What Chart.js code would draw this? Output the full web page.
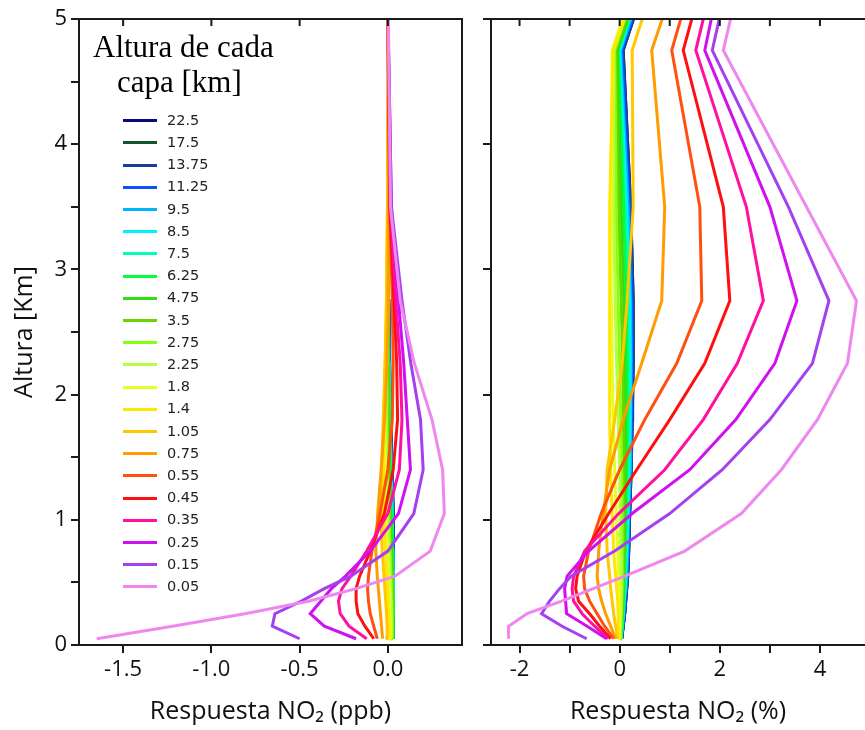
<!DOCTYPE html>
<html>
<head>
<meta charset="utf-8">
<script src="https://cdn.jsdelivr.net/npm/chart.js@4.4.1/dist/chart.umd.min.js"></script>
<style>
  html, body { margin: 0; padding: 0; background: #fff; }
  body { width: 865px; height: 730px; overflow: hidden; position: relative; }
  #izq { position: absolute; left: 0; top: 0; }
  #der { position: absolute; left: 470px; top: 0; }
  .tit { position: absolute; font: 31px "Liberation Serif", "Times New Roman", serif; line-height: 35px; color: #000; white-space: nowrap; }
  .fila { position: absolute; left: 123px; height: 22px; line-height: 22px; font: 14.5px "DejaVu Sans", sans-serif; color: #222; white-space: nowrap; }
  .fila i { display: inline-block; width: 34px; height: 3px; vertical-align: middle; margin-right: 10px; }
</style>
</head>
<body>
<canvas id="izq" width="470" height="730"></canvas>
<canvas id="der" width="395" height="730"></canvas>
<div id="leyenda"></div>
<script>
// altura de cada capa perturbada (km)
const capas = ['22.5', '17.5', '13.75', '11.25', '9.5', '8.5', '7.5', '6.25', '4.75', '3.5', '2.75',
  '2.25', '1.8', '1.4', '1.05', '0.75', '0.55', '0.45', '0.35', '0.25', '0.15', '0.05'];

const colores = ['#0a0a80', '#10552e', '#143c9a', '#0a50ff', '#00b4ff', '#00f0ff', '#00ffb4', '#00ff40',
  '#30e010', '#6cd400', '#84ff10', '#b4ff40', '#e4ff20', '#ffe800', '#ffc800', '#ff9c00',
  '#ff5010', '#ff1010', '#ff10a0', '#d010f0', '#a440f0', '#ee88ee'];

// niveles del perfil (km)
const alturas = [0.05, 0.15, 0.25, 0.35, 0.45, 0.55, 0.75, 1.05, 1.4, 1.8, 2.25, 2.75, 3.5, 4.75, 6.25];

// respuesta NO2 en ppb, una fila por capa (mismo orden que capas)
const respPpb = [
  [0.03, 0.03, 0.03, 0.03, 0.03, 0.03, 0.03, 0.03, 0.025, 0.015, 0.01, 0.005, 0.002, 0.001, 0],
  [0.03, 0.03, 0.03, 0.03, 0.03, 0.03, 0.03, 0.03, 0.024, 0.015, 0.01, 0.005, 0.002, 0.001, 0],
  [0.03, 0.03, 0.03, 0.03, 0.03, 0.03, 0.03, 0.029, 0.023, 0.014, 0.009, 0.005, 0.002, 0.001, 0],
  [0.028, 0.03, 0.03, 0.03, 0.03, 0.03, 0.03, 0.028, 0.022, 0.013, 0.008, 0.004, 0.002, 0.001, 0],
  [0.02, 0.028, 0.03, 0.03, 0.03, 0.03, 0.029, 0.026, 0.02, 0.012, 0.007, 0.004, 0.002, 0.001, 0],
  [0.01, 0.026, 0.03, 0.03, 0.03, 0.03, 0.028, 0.024, 0.018, 0.011, 0.006, 0.003, 0.001, 0, 0],
  [-0.01, 0.02, 0.028, 0.03, 0.03, 0.029, 0.027, 0.022, 0.016, 0.01, 0.005, 0.003, 0.001, 0, 0],
  [0.03, 0.03, 0.03, 0.03, 0.029, 0.028, 0.025, 0.02, 0.013, 0.007, 0.004, 0.002, 0.001, 0, 0],
  [0.03, 0.03, 0.03, 0.028, 0.027, 0.025, 0.021, 0.015, 0.008, 0.003, 0.001, 0.001, 0, 0, 0],
  [0.028, 0.028, 0.027, 0.026, 0.024, 0.022, 0.017, 0.01, 0.003, -0.002, -0.003, -0.002, 0, 0, 0],
  [0.025, 0.025, 0.024, 0.022, 0.02, 0.017, 0.012, 0.004, -0.004, -0.007, -0.006, -0.003, -0.001, 0, 0],
  [0.02, 0.02, 0.019, 0.017, 0.015, 0.012, 0.006, -0.003, -0.01, -0.012, -0.009, -0.005, -0.001, 0, 0],
  [0.015, 0.014, 0.012, 0.01, 0.007, 0.004, -0.003, -0.012, -0.018, -0.017, -0.012, -0.006, -0.002, 0, 0],
  [0.01, 0.008, 0.005, 0.002, -0.002, -0.006, -0.014, -0.024, -0.027, -0.022, -0.015, -0.008, -0.002, 0, 0],
  [0.0, -0.004, -0.008, -0.012, -0.017, -0.022, -0.032, -0.04, -0.036, -0.026, -0.016, -0.008, -0.002, 0, 0],
  [-0.03, -0.036, -0.042, -0.048, -0.054, -0.06, -0.068, -0.058, -0.038, -0.018, -0.005, 0.003, 0.003, 0.001, 0],
  [-0.06, -0.08, -0.1, -0.11, -0.115, -0.11, -0.09, -0.045, 0.0, 0.025, 0.03, 0.025, 0.01, 0.002, 0],
  [-0.08, -0.13, -0.17, -0.18, -0.18, -0.16, -0.1, -0.02, 0.03, 0.055, 0.05, 0.035, 0.012, 0.002, 0],
  [-0.12, -0.22, -0.27, -0.28, -0.26, -0.21, -0.12, 0.0, 0.065, 0.08, 0.07, 0.045, 0.015, 0.003, 0],
  [-0.18, -0.36, -0.44, -0.38, -0.32, -0.24, -0.1, 0.06, 0.128, 0.11, 0.09, 0.06, 0.02, 0.004, 0],
  [-0.5, -0.655, -0.64, -0.49, -0.36, -0.21, 0.0, 0.147, 0.2, 0.185, 0.13, 0.08, 0.02, 0.004, 0],
  [-1.65, -1.22, -0.81, -0.45, -0.18, 0.04, 0.24, 0.32, 0.31, 0.25, 0.15, 0.07, 0.015, 0.004, 0]
];

// respuesta NO2 en %, una fila por capa
const respPct = [
  [0.04, 0.07, 0.1, 0.12, 0.14, 0.16, 0.18, 0.2, 0.23, 0.25, 0.27, 0.27, 0.22, 0.07, 1.3],
  [0.04, 0.07, 0.1, 0.12, 0.14, 0.16, 0.18, 0.2, 0.23, 0.25, 0.27, 0.27, 0.22, 0.07, 1.3],
  [0.04, 0.07, 0.1, 0.12, 0.14, 0.16, 0.18, 0.2, 0.22, 0.25, 0.26, 0.26, 0.21, 0.06, 1.3],
  [0.04, 0.07, 0.1, 0.11, 0.13, 0.15, 0.17, 0.19, 0.22, 0.24, 0.25, 0.25, 0.2, 0.05, 1.3],
  [0.03, 0.06, 0.08, 0.1, 0.12, 0.14, 0.16, 0.18, 0.21, 0.22, 0.23, 0.22, 0.17, 0.02, 1.25],
  [0.03, 0.05, 0.07, 0.09, 0.11, 0.12, 0.14, 0.17, 0.19, 0.21, 0.21, 0.2, 0.14, 0.0, 1.2],
  [0.02, 0.05, 0.07, 0.08, 0.1, 0.11, 0.13, 0.15, 0.17, 0.18, 0.18, 0.17, 0.11, -0.02, 1.2],
  [0.02, 0.04, 0.06, 0.07, 0.08, 0.09, 0.1, 0.12, 0.14, 0.15, 0.15, 0.13, 0.08, -0.03, 1.2],
  [0.02, 0.03, 0.05, 0.06, 0.07, 0.08, 0.09, 0.1, 0.11, 0.11, 0.1, 0.08, 0.03, -0.05, 1.2],
  [0.01, 0.02, 0.04, 0.05, 0.06, 0.07, 0.08, 0.08, 0.08, 0.07, 0.06, 0.03, -0.02, -0.08, 1.15],
  [0.01, 0.02, 0.03, 0.04, 0.05, 0.05, 0.05, 0.05, 0.04, 0.02, 0.0, -0.03, -0.07, -0.1, 1.1],
  [0.0, 0.01, 0.02, 0.03, 0.03, 0.03, 0.02, 0.01, 0.0, -0.03, -0.06, -0.09, -0.12, -0.12, 1.1],
  [0.0, 0.0, 0.0, 0.0, -0.01, -0.02, -0.04, -0.07, -0.1, -0.13, -0.15, -0.16, -0.17, -0.15, 1.1],
  [-0.01, -0.02, -0.03, -0.04, -0.06, -0.08, -0.12, -0.15, -0.18, -0.2, -0.2, -0.2, -0.2, -0.13, 1.2],
  [-0.04, -0.08, -0.12, -0.15, -0.18, -0.2, -0.25, -0.28, -0.25, -0.1, 0.05, 0.15, 0.27, 0.25, 1.45],
  [-0.08, -0.18, -0.28, -0.36, -0.42, -0.45, -0.42, -0.33, -0.2, 0.07, 0.44, 0.84, 0.9, 0.64, 1.9],
  [-0.12, -0.3, -0.45, -0.6, -0.7, -0.72, -0.62, -0.37, 0.0, 0.5, 1.14, 1.64, 1.6, 1.04, 2.12],
  [-0.18, -0.4, -0.6, -0.82, -0.88, -0.85, -0.68, -0.22, 0.34, 1.0, 1.7, 2.2, 2.07, 1.27, 2.29],
  [-0.23, -0.5, -0.75, -0.92, -0.95, -0.92, -0.7, -0.02, 0.9, 1.67, 2.35, 2.87, 2.53, 1.52, 2.42],
  [-0.26, -0.65, -1.06, -1.08, -1.1, -1.05, -0.62, 0.25, 1.4, 2.32, 3.1, 3.54, 3.0, 1.7, 2.48],
  [-0.66, -1.15, -1.56, -1.4, -1.2, -0.97, -0.1, 1.0, 2.05, 3.0, 3.85, 4.18, 3.37, 1.85, 2.68],
  [-2.22, -2.22, -1.85, -1.16, -0.53, 0.1, 1.3, 2.43, 3.23, 3.95, 4.55, 4.73, 3.73, 2.07, 2.94]
];

const ticksPpb = [-1.5, -1.0, -0.5, 0.0];
const ticksPct = [-2, -1, 0, 1, 2, 3, 4];
const ticksAltIzq = [0, 0.5, 1, 1.5, 2, 2.5, 3, 3.5, 4, 4.5, 5];
const ticksAltDer = [0, 1, 2, 3, 4, 5];

const negro = '#1a1a1a';
const fTicks = { family: 'Open Sans', size: 22 };
const fTitulo = { family: 'Open Sans', size: 25 };

// marco del panel y marcas hacia dentro en el borde superior
const marco = {
  id: 'marco',
  afterDatasetsDraw(chart, args, o) {
    const { ctx, chartArea: a, scales: { x } } = chart;
    ctx.save();
    ctx.strokeStyle = negro;
    ctx.lineWidth = 2;
    ctx.beginPath();
    ctx.moveTo(a.left, a.bottom);
    ctx.lineTo(a.left, a.top);
    ctx.lineTo(a.right, a.top);
    if (o.cerrar) {
      ctx.lineTo(a.right, a.bottom);
    } else {
      ctx.moveTo(a.right, a.bottom);
    }
    ctx.lineTo(a.left, a.bottom);
    o.ticks.forEach(v => {
      const px = x.getPixelForValue(v);
      ctx.moveTo(px, a.top);
      ctx.lineTo(px, a.top + 7);
    });
    ctx.stroke();
    ctx.restore();
  }
};

function series(valores) {
  return capas.map((c, i) => ({
    label: c,
    data: valores[i].map((v, k) => ({ x: v, y: alturas[k] })),
    borderColor: colores[i],
    backgroundColor: colores[i],
    borderWidth: 3,
    pointRadius: 0,
    tension: 0,
    fill: false,
    order: capas.length - i
  }));
}

function panel(id, valores, cfg) {
  return new Chart(document.getElementById(id), {
    type: 'scatter',
    data: { datasets: series(valores) },
    options: {
      responsive: false,
      animation: false,
      showLine: true,
      layout: { padding: cfg.padding },
      plugins: {
        legend: { display: false },
        tooltip: { enabled: false },
        marco: { ticks: cfg.xTicks, cerrar: cfg.cerrar }
      },
      scales: {
        x: {
          type: 'linear',
          min: cfg.xMin,
          max: cfg.xMax,
          afterBuildTicks: s => { s.ticks = cfg.xTicks.map(v => ({ value: v })); },
          afterFit: s => { s.height = 85; },
          ticks: {
            autoSkip: false, maxRotation: 0, padding: 4, color: '#111', font: fTicks,
            callback: cfg.xLabel
          },
          grid: { drawOnChartArea: false, tickLength: 8, color: negro, lineWidth: 2 },
          border: { display: false },
          title: { display: true, text: cfg.xTitulo, color: '#111', font: fTitulo, padding: { top: 0, bottom: 3 } }
        },
        y: {
          type: 'linear',
          min: 0,
          max: 5,
          afterBuildTicks: s => { s.ticks = cfg.yTicks.map(v => ({ value: v })); },
          afterFit: s => { s.width = cfg.yAncho; },
          ticks: {
            autoSkip: false, padding: 4, color: '#111', font: fTicks,
            callback: cfg.yLabel
          },
          grid: { drawOnChartArea: false, tickLength: 8, color: negro, lineWidth: 2 },
          border: { display: false },
          title: { display: cfg.yTitulo !== '', text: cfg.yTitulo, color: '#111', font: fTitulo, padding: { top: 10, bottom: 0 } }
        }
      }
    },
    plugins: [marco]
  });
}

panel('izq', respPpb, {
  xMin: -1.75, xMax: 0.42, xTicks: ticksPpb, yTicks: ticksAltIzq, yAncho: 79,
  padding: { top: 19, right: 8, left: 0, bottom: 0 }, cerrar: true,
  xLabel: v => v.toFixed(1),
  yLabel: v => (Number.isInteger(v) ? String(v) : ''),
  xTitulo: 'Respuesta NO₂ (ppb)', yTitulo: 'Altura [Km]'
});

panel('der', respPct, {
  xMin: -2.57, xMax: 4.9, xTicks: ticksPct, yTicks: ticksAltDer, yAncho: 21,
  padding: { top: 19, right: 0, left: 0, bottom: 0 }, cerrar: false,
  xLabel: v => (v % 2 === 0 ? String(v) : ''),
  yLabel: () => '',
  xTitulo: 'Respuesta NO₂ (%)', yTitulo: ''
});

// leyenda con el título de las capas
const ley = document.getElementById('leyenda');
ley.innerHTML =
  '<div class="tit" style="left:93px;top:29px">Altura de cada</div>' +
  '<div class="tit" style="left:117px;top:64px">capa [km]</div>' +
  capas.map((c, i) =>
    '<div class="fila" style="top:' + (111.7 + i * 22.2).toFixed(1) + 'px"><i style="background:' +
    colores[i] + '"></i>' + c + '</div>').join('');
</script>
</body>
</html>
